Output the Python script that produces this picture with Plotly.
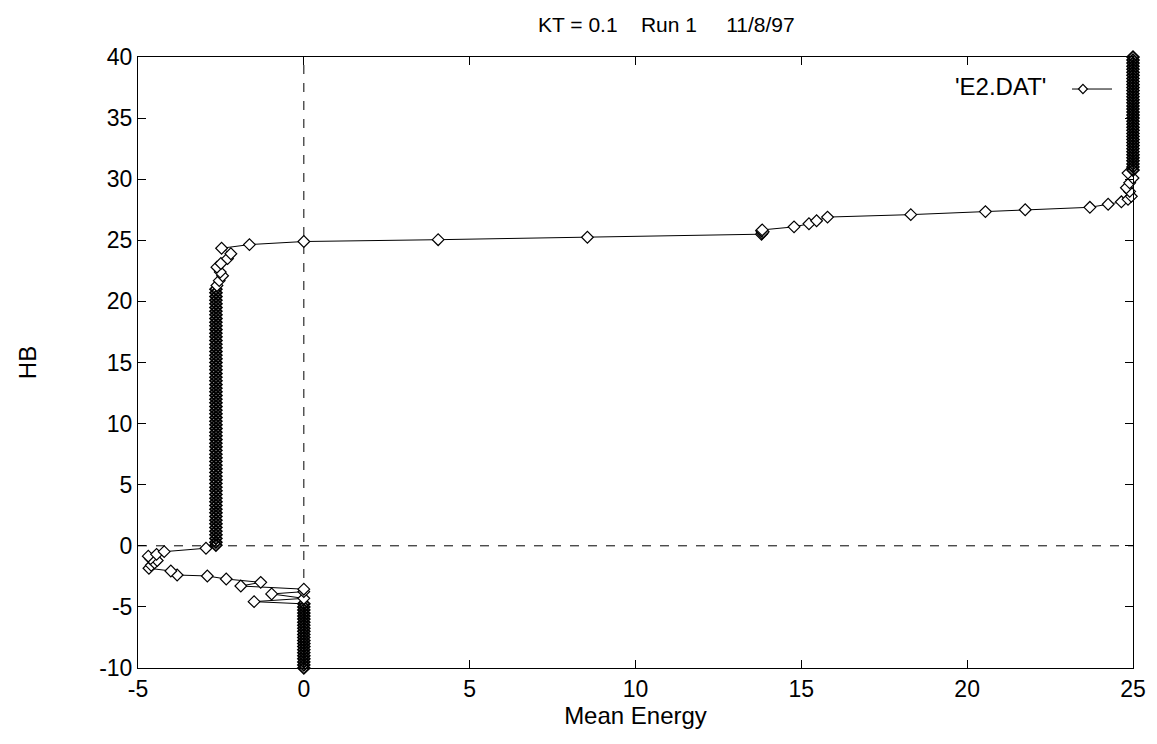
import plotly.graph_objects as go

# ---- data ----
# bottom column at Mean Energy = 0
bottom_hb = [-10.0, -9.75, -9.5, -9.25, -9.0, -8.75, -8.5, -8.25, -8.0, -7.75, -7.5,
             -7.25, -7.0, -6.75, -6.5, -6.25, -6.0, -5.75, -5.5, -5.25, -5.0, -4.75]
bottom_energy = [0.0] * len(bottom_hb)

# lower excursion
low_energy = [-1.5, 0.0, -0.97, 0.0, 0.0, -1.9, -1.3, -2.34, -2.91, -3.82, -4.01, -4.67,
              -4.6, -4.5, -4.42, -4.62, -4.69, -4.44, -4.21, -2.95]
low_hb = [-4.57, -4.3, -3.94, -3.75, -3.55, -3.29, -2.99, -2.72, -2.47, -2.39, -2.06, -1.84,
          -1.6, -1.4, -1.2, -1.05, -0.85, -0.7, -0.48, -0.2]

# middle column at Mean Energy ~ -2.65
mid_hb = [0.05, 0.3, 0.6, 0.9, 1.2, 1.5, 1.8, 2.1, 2.4, 2.7, 3.0, 3.3, 3.6, 3.9, 4.2, 4.5, 4.8,
          5.1, 5.4, 5.7, 6.0, 6.3, 6.6, 6.9, 7.2, 7.5, 7.8, 8.1, 8.4, 8.7, 9.0, 9.3, 9.6,
          9.9, 10.2, 10.5, 10.8, 11.1, 11.4, 11.7, 12.0, 12.3, 12.6, 12.9, 13.2, 13.5, 13.8,
          14.1, 14.4, 14.7, 15.0, 15.3, 15.6, 15.9, 16.2, 16.5, 16.8, 17.1, 17.4, 17.7, 18.0,
          18.3, 18.6, 18.9, 19.2, 19.5, 19.8, 20.1, 20.4, 20.7, 21.0]
mid_energy = [-2.65] * len(mid_hb)

# upper transition
up_energy = [-2.62, -2.55, -2.45, -2.52, -2.62, -2.5, -2.3, -2.2, -2.48, -1.64, 0.0, 4.05,
             8.55, 13.8, 13.82, 13.85, 13.8, 13.82, 14.78, 15.23, 15.46, 15.79, 18.3, 20.55,
             21.75, 23.7, 24.25, 24.65, 24.85, 24.95, 24.9, 24.8, 24.9, 25.0, 24.85]
up_hb = [21.3, 21.7, 22.1, 22.4, 22.8, 23.1, 23.5, 23.9, 24.35, 24.65, 24.9, 25.05,
         25.25, 25.5, 25.6, 25.7, 25.78, 25.85, 26.1, 26.35, 26.6, 26.9, 27.1, 27.35,
         27.5, 27.7, 27.95, 28.15, 28.35, 28.6, 29.0, 29.3, 29.7, 30.1, 30.5]

# top column at Mean Energy = 25
top_hb = [30.75, 31.0, 31.25, 31.5, 31.75, 32.0, 32.25, 32.5, 32.75, 33.0, 33.25, 33.5,
          33.75, 34.0, 34.25, 34.5, 34.75, 35.0, 35.25, 35.5, 35.75, 36.0, 36.25, 36.5,
          36.75, 37.0, 37.25, 37.5, 37.75, 38.0, 38.25, 38.5, 38.75, 39.0, 39.25, 39.5,
          39.75, 40.0]
top_energy = [25.0] * len(top_hb)

x_ticks = [-5, 0, 5, 10, 15, 20, 25]
y_ticks = [-10, -5, 0, 5, 10, 15, 20, 25, 30, 35, 40]

FONT = "Liberation Sans, Arial, sans-serif"

segments = [(bottom_energy, bottom_hb, True), (low_energy, low_hb, False),
            (mid_energy, mid_hb, True), (up_energy, up_hb, False),
            (top_energy, top_hb, True)]
energy, hb, symbols, mlw, mcol = [], [], [], [], []
for xs, ys, dense in segments:
    energy += xs
    hb += ys
    symbols += ["diamond-open" if dense else "diamond"] * len(xs)
    mlw += [1.8 if dense else 1.2] * len(xs)
    mcol += ["black" if dense else "white"] * len(xs)

fig = go.Figure()
fig.add_trace(go.Scatter(
    x=energy, y=hb, mode="lines+markers",
    line=dict(color="black", width=1),
    marker=dict(symbol=symbols, size=9, color=mcol,
                line=dict(color="black", width=mlw)),
    showlegend=False, cliponaxis=False,
))

# dashed zero axes
fig.add_shape(type="line", xref="x", yref="paper", x0=0, x1=0, y0=0, y1=1,
              line=dict(color="black", width=1, dash="dash"), layer="below")
fig.add_shape(type="line", xref="paper", yref="y", x0=0, x1=1, y0=0, y1=0,
              line=dict(color="black", width=1, dash="dash"), layer="below")

# legend (gnuplot style: text then sample)
fig.add_annotation(text="'E2.DAT'", xref="paper", yref="paper", x=0.9146, y=0.951,
                   xanchor="right", yanchor="middle", showarrow=False,
                   font=dict(family=FONT, size=24, color="black"))
fig.add_shape(type="line", xref="paper", yref="paper", x0=0.9387, x1=0.9789,
              y0=0.9476, y1=0.9476, line=dict(color="black", width=1))
cx, cy, dx, dy = 0.9497, 0.9476, 0.0045, 0.0075
fig.add_shape(type="path", xref="paper", yref="paper",
              path=f"M {cx-dx},{cy} L {cx},{cy+dy} L {cx+dx},{cy} L {cx},{cy-dy} Z",
              fillcolor="white", line=dict(color="black", width=1.2))

axis_common = dict(showline=True, linecolor="black", linewidth=1, mirror="ticks",
                   ticks="inside", ticklen=8, tickcolor="black", tickwidth=1,
                   showgrid=False, zeroline=False,
                   tickfont=dict(family=FONT, size=23, color="black"))

fig.update_layout(
    width=1157, height=744,
    margin=dict(l=138, r=24, t=57, b=76),
    paper_bgcolor="white", plot_bgcolor="white",
    title=dict(text="KT = 0.1\u00a0\u00a0\u00a0\u00a0Run 1\u00a0\u00a0\u00a0\u00a0\u00a011/8/97",
               x=0.531, xref="paper", xanchor="center", y=0.967, yanchor="middle",
               font=dict(family=FONT, size=21, color="black")),
    xaxis=dict(range=[-5, 25], tickvals=x_ticks, ticktext=[str(v) for v in x_ticks],
               title=dict(text="Mean Energy", standoff=4,
                          font=dict(family=FONT, size=24, color="black")),
               **axis_common),
    yaxis=dict(range=[-10, 40], tickvals=y_ticks, ticktext=[str(v) for v in y_ticks],
               title=dict(text="HB", standoff=55,
                          font=dict(family=FONT, size=24, color="black")),
               **axis_common),
)

fig.write_html("out.html")
